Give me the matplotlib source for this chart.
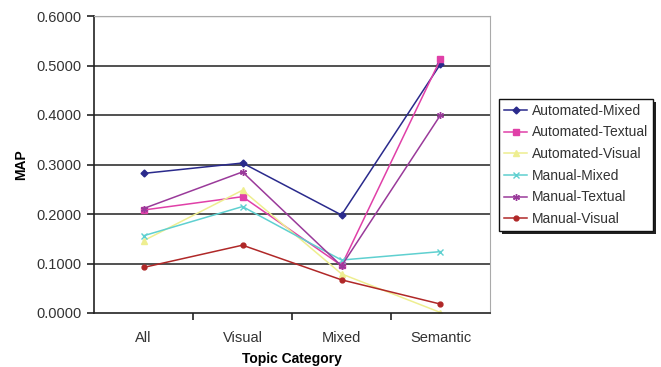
import matplotlib
matplotlib.use('Agg')
import matplotlib.pyplot as plt
import matplotlib.patheffects as pe

plt.rcParams['font.family'] = ['Liberation Sans', 'DejaVu Sans']

categories = ['All', 'Visual', 'Mixed', 'Semantic']
series_names = ['Automated-Mixed', 'Automated-Textual', 'Automated-Visual',
                'Manual-Mixed', 'Manual-Textual', 'Manual-Visual']
automated_mixed = [0.282, 0.303, 0.198, 0.503]
automated_textual = [0.208, 0.235, 0.096, 0.513]
automated_visual = [0.146, 0.248, 0.079, 0.001]
manual_mixed = [0.156, 0.215, 0.107, 0.124]
manual_textual = [0.211, 0.285, 0.095, 0.400]
manual_visual = [0.092, 0.137, 0.067, 0.018]
y_ticks = [0.0, 0.1, 0.2, 0.3, 0.4, 0.5, 0.6]

series = [automated_mixed, automated_textual, automated_visual,
          manual_mixed, manual_textual, manual_visual]
colors = ['#2a2a8c', '#e040a8', '#eeee90', '#5fd0d0', '#9a3a9a', '#b02828']
markers = ['D', 's', '^', 'x', (6, 2, 0), 'o']
msizes = [3.5, 4.5, 4, 4.5, 5, 3.5]

fig = plt.figure(figsize=(6.61, 3.67), dpi=100)
ax = fig.add_axes([94 / 661, 1 - 313 / 367, 396 / 661, 297 / 367])

x = list(range(len(categories)))
for vals, name, c, m, ms in zip(series, series_names, colors, markers, msizes):
    ax.plot(x, vals, color=c, marker=m, markersize=ms, linewidth=1.1,
            markeredgewidth=1.0, label=name)

ax.set_xlim(-0.5, len(categories) - 0.5)
ax.set_ylim(0, 0.6)
ax.set_yticks(y_ticks)
ax.set_yticklabels(['{:.4f}'.format(v) for v in y_ticks], fontsize=10.5,
                   color='#333333')
ax.set_xticks(x)
ax.set_xticklabels(categories, fontsize=10.5, color='#333333')
ax.tick_params(axis='x', length=0, pad=13)
ax.set_xticks([i + 0.5 for i in x[:-1]], minor=True)
ax.tick_params(axis='x', which='minor', length=5, width=1.2, color='#222222')
ax.tick_params(axis='y', length=5, width=1.2, color='#222222', pad=4)

for y in y_ticks[1:-1]:
    ax.axhline(y, color='#333333', linewidth=1.2, zorder=0)
ax.axhline(0.6, color='#aaaaaa', linewidth=1.0, zorder=0)

for side in ['top', 'right']:
    ax.spines[side].set_color('#aaaaaa')
ax.spines['left'].set_color('#222222')
ax.spines['bottom'].set_color('#222222')
ax.spines['left'].set_linewidth(1.2)
ax.spines['bottom'].set_linewidth(1.2)

ax.set_ylabel('MAP', fontsize=10, fontweight='bold', labelpad=6)
ax.set_xlabel('Topic Category', fontsize=10, fontweight='bold', labelpad=5)

leg = fig.legend(loc='upper left', bbox_to_anchor=(499 / 661, 1 - 99 / 367),
                 fontsize=10, frameon=True, fancybox=False, framealpha=1.0,
                 handlelength=1.7, handletextpad=0.3, labelspacing=0.55,
                 borderpad=0.35, borderaxespad=0)
for t in leg.get_texts():
    t.set_color('#333333')
frame = leg.get_frame()
frame.set_edgecolor('#111111')
frame.set_linewidth(1.0)
frame.set_path_effects([pe.SimplePatchShadow(offset=(2, -2), shadow_rgbFace='#222222', alpha=1.0),
                        pe.Normal()])

fig.savefig('out.png', dpi=100)
